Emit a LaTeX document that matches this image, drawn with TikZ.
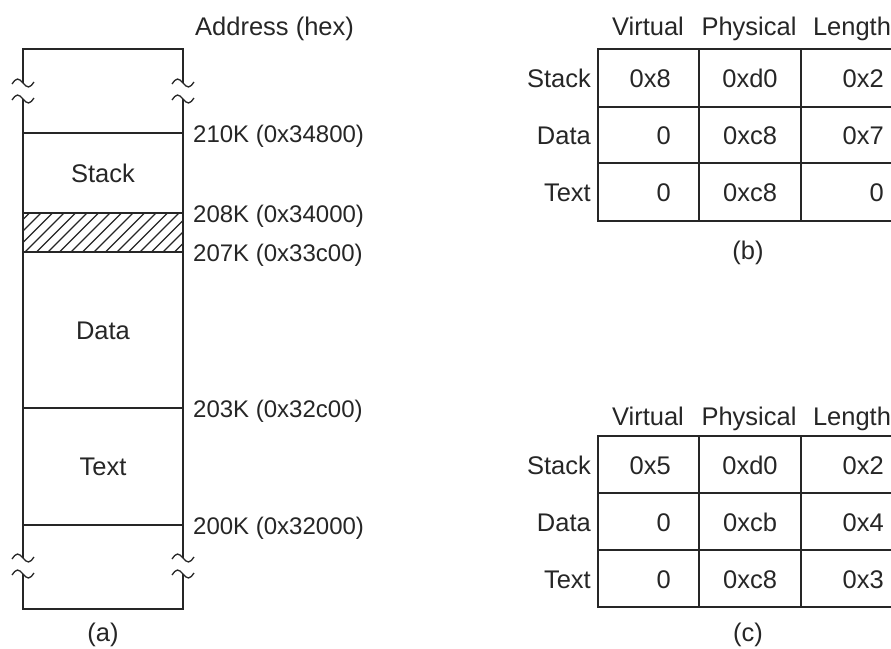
\documentclass[tikz,border=0pt]{standalone}
\usepackage{fontspec}
\setmainfont{Liberation Sans}
\begin{document}
\begin{tikzpicture}[x=1pt,y=-1pt,
  lbl/.style={font=\fontsize{25.5}{30}\selectfont, inner sep=0pt, text=black!85},
  addrlbl/.style={font=\fontsize{24}{29}\selectfont, inner sep=0pt, text=black!85, anchor=base west},
  edge/.style={line width=1.8pt, draw=black!85},
  brk/.style={line width=1.3pt, draw=black!85}]
\useasboundingbox (0,0) rectangle (891,648);

% ---------- (a) memory layout ----------
\coordinate (tl) at (23,49);
\coordinate (tr) at (183,49);
\coordinate (bl) at (23,609);
\coordinate (br) at (183,609);
% outer box with breaks
\draw[edge] (23,83) -- (tl) -- (tr) -- (183,83);
\draw[edge] (23,99) -- (23,558);
\draw[edge] (183,99) -- (183,558);
\draw[edge] (23,574) -- (bl) -- (br) -- (183,574);
% break marks
\foreach \xx in {23,183}{
  \foreach \yy in {83,99,558,574}{
    \draw[brk] (\xx-11,\yy+1) sin (\xx-5.5,\yy-4) cos (\xx,\yy) sin (\xx+5.5,\yy+4) cos (\xx+11,\yy-1);
  }
}
% horizontal divisions
\foreach \yy in {133,408,525}{
  \draw[edge] (23,\yy) -- (183,\yy);
}
% hatch
\begin{scope}
  \clip (23,213) rectangle (183,252);
  \foreach \i in {-5,...,16}{
    \draw[line width=1.2pt, black!85] (23+\i*11.5,254) -- ++(43,-43);
  }
\end{scope}
\draw[edge] (23,213) -- (183,213);
\draw[edge] (23,252) -- (183,252);

\node[lbl, anchor=base] (stk) at (103,182) {Stack};
\node[lbl, anchor=base] (dat) at (103,339) {Data};
\node[lbl, anchor=base] (txt) at (103,475) {Text};
\node[lbl, anchor=base west] (addr) at (195,35) {Address (hex)};
\node[addrlbl] (a210) at (193,142) {210K (0x34800)};
\node[addrlbl] (a208) at (193,222) {208K (0x34000)};
\node[addrlbl] (a207) at (193,261) {207K (0x33c00)};
\node[addrlbl] (a203) at (193,417) {203K (0x32c00)};
\node[addrlbl] (a200) at (193,534) {200K (0x32000)};
\node[lbl] (capa) at (103,635) {(a)};

% ---------- (b) table ----------
\draw[edge] (598,49) rectangle (900,221);
\draw[edge] (598,107) -- (900,107);
\draw[edge] (598,163) -- (900,163);
\draw[edge] (699,49) -- (699,221);
\draw[edge] (801,49) -- (801,221);
\node[lbl, anchor=base] (bh1) at (648,35) {Virtual};
\node[lbl, anchor=base] (bh2) at (749,35) {Physical};
\node[lbl, anchor=base] (bh3) at (852,35) {Length};
\node[lbl, anchor=base east] (br1) at (591,87) {Stack};
\node[lbl, anchor=base east] (br2) at (591,144) {Data};
\node[lbl, anchor=base east] (br3) at (591,201) {Text};
\node[lbl, anchor=base east] (b11) at (671,87) {0x8};
\node[lbl, anchor=base east] (b21) at (671,144) {0};
\node[lbl, anchor=base east] (b31) at (671,201) {0};
\node[lbl, anchor=base] (b12) at (750,87) {0xd0};
\node[lbl, anchor=base] (b22) at (750,144) {0xc8};
\node[lbl, anchor=base] (b32) at (750,201) {0xc8};
\node[lbl, anchor=base east] (b13) at (884,87) {0x2};
\node[lbl, anchor=base east] (b23) at (884,144) {0x7};
\node[lbl, anchor=base east] (b33) at (884,201) {0};
\node[lbl] (capb) at (748,253) {(b)};

% ---------- (c) table ----------
\draw[edge] (598,436) rectangle (900,607);
\draw[edge] (598,493) -- (900,493);
\draw[edge] (598,550) -- (900,550);
\draw[edge] (699,436) -- (699,607);
\draw[edge] (801,436) -- (801,607);
\node[lbl, anchor=base] (ch1) at (648,425) {Virtual};
\node[lbl, anchor=base] (ch2) at (749,425) {Physical};
\node[lbl, anchor=base] (ch3) at (852,425) {Length};
\node[lbl, anchor=base east] (cr1) at (591,474) {Stack};
\node[lbl, anchor=base east] (cr2) at (591,531) {Data};
\node[lbl, anchor=base east] (cr3) at (591,588) {Text};
\node[lbl, anchor=base east] (c11) at (671,474) {0x5};
\node[lbl, anchor=base east] (c21) at (671,531) {0};
\node[lbl, anchor=base east] (c31) at (671,588) {0};
\node[lbl, anchor=base] (c12) at (750,474) {0xd0};
\node[lbl, anchor=base] (c22) at (750,531) {0xcb};
\node[lbl, anchor=base] (c32) at (750,588) {0xc8};
\node[lbl, anchor=base east] (c13) at (884,474) {0x2};
\node[lbl, anchor=base east] (c23) at (884,531) {0x4};
\node[lbl, anchor=base east] (c33) at (884,588) {0x3};
\node[lbl] (capc) at (748,635) {(c)};
\end{tikzpicture}
\end{document}
